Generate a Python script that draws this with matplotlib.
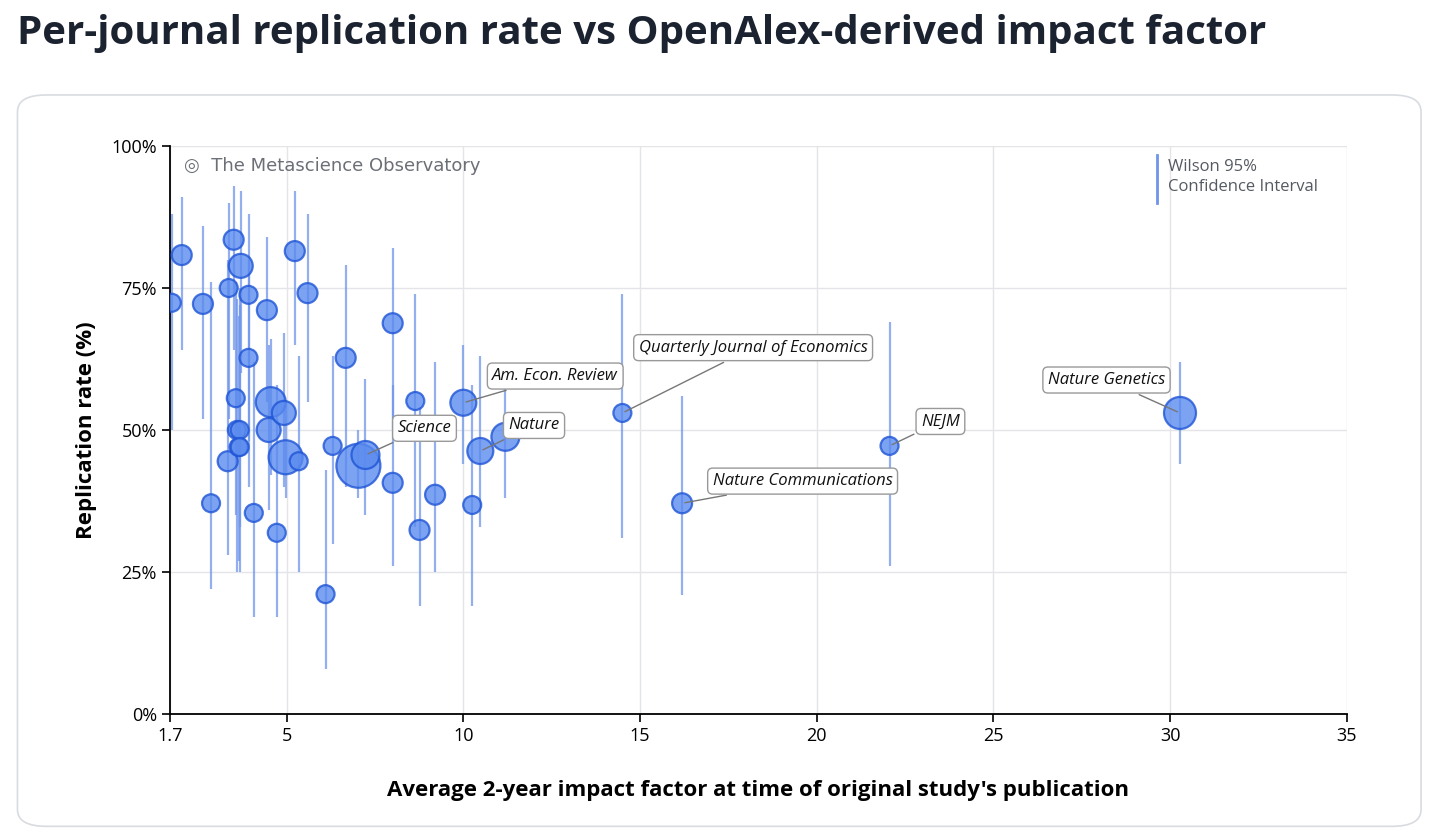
import matplotlib
matplotlib.use('Agg')
import matplotlib.pyplot as plt
from matplotlib.patches import FancyBboxPatch

impact = [1.75, 2.03, 2.63, 2.86, 3.33, 3.36, 3.5, 3.56, 3.59, 3.64, 3.67, 3.67, 3.7, 3.92, 3.92,
          4.07, 4.44, 4.49, 4.55, 4.72, 4.92, 4.97, 5.23, 5.34, 5.59, 6.1, 6.3, 6.67, 7.03, 7.23,
          8.0, 8.0, 8.64, 8.76, 9.2, 10.0, 10.25, 10.48, 11.19, 14.5, 16.19, 22.06, 30.28]
rate = [72.4, 80.8, 72.2, 37.1, 44.5, 75.0, 83.5, 55.6, 50.0, 47.0, 50.0, 47.0, 78.9, 73.8, 62.7,
        35.4, 71.1, 50.0, 54.9, 31.9, 53.0, 45.2, 81.5, 44.5, 74.1, 21.1, 47.2, 62.7, 43.7, 45.6,
        68.8, 40.7, 55.1, 32.4, 38.6, 54.8, 36.8, 46.3, 48.8, 53.0, 37.1, 47.2, 53.0]
ci_lo = [50, 64, 52, 22, 28, 52, 64, 35, 25, 27, 33, 25, 60, 48, 40,
         17, 55, 36, 42, 17, 40, 38, 65, 25, 55, 8, 30, 40, 38, 35,
         50, 26, 33, 19, 25, 44, 19, 33, 38, 31, 21, 26, 44]
ci_hi = [88, 91, 86, 76, 80, 90, 93, 76, 73, 70, 75, 72, 92, 88, 80,
         62, 84, 65, 66, 58, 67, 55, 92, 63, 88, 43, 63, 79, 50, 59,
         82, 58, 74, 54, 62, 65, 58, 63, 58, 74, 56, 69, 62]
radius = [9, 10, 10, 9, 10, 9, 10, 9, 9, 9, 9, 9, 12, 9, 9,
          9, 10, 12, 15, 9, 12, 17, 10, 9, 10, 9, 9, 10, 22, 14,
          10, 10, 9, 10, 10, 13, 9, 13, 14, 9, 10, 9, 16]
labels = {35: "Am. Econ. Review", 29: "Science", 37: "Nature", 39: "Quarterly Journal of Economics",
          40: "Nature Communications", 41: "NEJM", 42: "Nature Genetics"}
label_pos = {35: (12.6, 59.5), 29: (8.9, 50.3), 37: (12.0, 50.8), 39: (18.2, 64.5),
             40: (19.6, 41.0), 41: (23.5, 51.5), 42: (28.2, 58.8)}

plt.rcParams['font.family'] = ['Open Sans', 'DejaVu Sans']
fig = plt.figure(figsize=(14.56, 8.33), dpi=100)
fig.patches.append(FancyBboxPatch((0.012, 0.008), 0.964, 0.878, boxstyle="round,pad=0,rounding_size=0.02",
                                  transform=fig.transFigure, fc='white', ec='#d8dbe0', lw=1.2, zorder=-5))
fig.text(0.012, 0.96, "Per-journal replication rate vs OpenAlex-derived impact factor",
         fontsize=29, fontweight='bold', color='#1c2330', va='center')

ax = fig.add_axes([0.1168, 0.1429, 0.8082, 0.6818])
ax.patch.set_alpha(0)
ax.vlines(impact, ci_lo, ci_hi, color='#6f95ea', lw=1.6, alpha=0.75, zorder=2)
ax.scatter(impact, rate, s=[(2 * r * 0.72) ** 2 for r in radius], fc='#5b8bef', ec='#1f55d6',
           lw=1.6, alpha=0.8, zorder=3)
for i, txt in labels.items():
    ax.annotate(txt, (impact[i], rate[i]), xytext=label_pos[i], fontsize=12, style='italic',
                ha='center', va='center', color='#111',
                bbox=dict(boxstyle='round,pad=0.3', fc='white', ec='#999', lw=1),
                arrowprops=dict(arrowstyle='-', color='#777', lw=1), zorder=4)

ax.set_xlim(1.7, 35)
ax.set_ylim(0, 100)
ax.set_xticks([1.7, 5, 10, 15, 20, 25, 30, 35])
ax.set_xticklabels(['1.7', '5', '10', '15', '20', '25', '30', '35'])
ax.set_yticks([0, 25, 50, 75, 100])
ax.set_yticklabels(['0%', '25%', '50%', '75%', '100%'])
ax.tick_params(labelsize=13, length=6, width=1.2)
ax.grid(color='#e3e5e8', lw=1)
ax.set_axisbelow(True)
for s in ['top', 'right']:
    ax.spines[s].set_visible(False)
for s in ['left', 'bottom']:
    ax.spines[s].set_linewidth(1.3)
ax.set_xlabel("Average 2-year impact factor at time of original study's publication",
              fontsize=16, fontweight='bold', labelpad=25)
ax.set_ylabel("Replication rate (%)", fontsize=16, fontweight='bold', labelpad=10)

ax.text(0.012, 0.965, "\u25CE  The Metascience Observatory", transform=ax.transAxes,
        fontsize=13, color='#6b6f76', va='center', family=['DejaVu Sans'])
ax.plot([0.839, 0.839], [0.9, 0.985], transform=ax.transAxes, color='#6f95ea', lw=2)
ax.text(0.848, 0.945, "Wilson 95%\nConfidence Interval", transform=ax.transAxes,
        fontsize=12, color='#555a62', va='center', linespacing=1.3)

plt.savefig("out.png", dpi=100)
